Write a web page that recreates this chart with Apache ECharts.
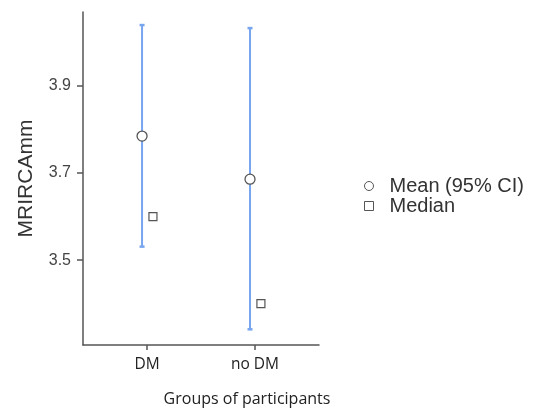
<!DOCTYPE html>
<html>
<head>
<meta charset="utf-8">
<script src="https://cdn.jsdelivr.net/npm/echarts@6/dist/echarts.min.js"></script>
<style>html,body{margin:0;padding:0;background:#fff}#c{width:536px;height:413px}</style>
</head>
<body>
<div id="c"></div>
<script>
// Data
var categories = ['DM', 'no DM'];
var meanValues = [3.785, 3.686];
var ciLower = [3.531, 3.341];
var ciUpper = [4.040, 4.033];
var medianValues = [3.600, 3.400];
var yTickValues = [3.5, 3.7, 3.9];
var yTickLabels = ['3.5', '3.7', '3.9'];

var catPos = categories.map(function (c, i) { return i + 1; });
var meanOffset = -0.046, medianOffset = 0.055;

var ciData = catPos.map(function (p, i) { return [p + meanOffset, ciLower[i], ciUpper[i]]; });
var meanData = catPos.map(function (p, i) { return [p + meanOffset, meanValues[i]]; });
var medianData = catPos.map(function (p, i) { return [p + medianOffset, medianValues[i]]; });

var barColor = '#78a5ef';
var chart = echarts.init(document.getElementById('c'), null, { renderer: 'canvas' });
chart.setOption({
  animation: false,
  backgroundColor: '#fff',
  grid: { left: 83, top: 12, width: 236, height: 333, containLabel: false },
  xAxis: {
    type: 'value', min: 0.407, max: 2.593,
    name: 'Groups of participants', nameLocation: 'middle', nameGap: 46,
    nameTextStyle: { fontFamily: 'Open Sans', fontSize: 16, color: '#222', padding: [0, 0, 0, 92] },
    splitLine: { show: false },
    axisLine: { show: true, onZero: false, lineStyle: { color: '#555', width: 1.5 } },
    axisTick: { show: true, customValues: catPos, length: 5, lineStyle: { color: '#555', width: 1.5 } },
    axisLabel: {
      customValues: catPos, margin: 12,
      fontFamily: 'Open Sans', fontSize: 15.5, color: '#222',
      formatter: function (v) { return categories[Math.round(v) - 1] || ''; }
    }
  },
  yAxis: {
    type: 'value', min: 3.305, max: 4.070,
    name: 'MRIRCAmm', nameLocation: 'middle', nameGap: 46, nameRotate: 90,
    nameTextStyle: { fontFamily: 'Liberation Sans', fontSize: 21, color: '#333' },
    splitLine: { show: false },
    axisLine: { show: true, lineStyle: { color: '#555', width: 1.5 } },
    axisTick: { show: true, customValues: yTickValues, length: 6, lineStyle: { color: '#555', width: 1.5 } },
    axisLabel: {
      customValues: yTickValues, margin: 12,
      fontFamily: 'Liberation Sans', fontSize: 16, color: '#444',
      formatter: function (v) {
        var idx = yTickValues.findIndex(function (t) { return Math.abs(t - v) < 1e-6; });
        return idx >= 0 ? yTickLabels[idx] : '';
      }
    }
  },
  legend: {
    orient: 'vertical', left: 359, top: 171,
    itemWidth: 9, itemHeight: 9, itemGap: 0,
    textStyle: { fontFamily: 'Liberation Sans', fontSize: 20, color: '#333', lineHeight: 20, padding: [0, 0, 0, 11] },
    data: [
      { name: 'Mean (95% CI)', icon: 'circle', itemStyle: { color: '#fff', borderColor: '#555', borderWidth: 1 } },
      { name: 'Median', icon: 'rect', itemStyle: { color: '#fff', borderColor: '#555', borderWidth: 1 } }
    ]
  },
  series: [
    {
      type: 'custom', name: 'CI', silent: true,
      renderItem: function (params, api) {
        var x = api.value(0);
        var lo = api.coord([x, api.value(1)]);
        var hi = api.coord([x, api.value(2)]);
        var cap = 2.5;
        return {
          type: 'group',
          children: [
            { type: 'line', shape: { x1: lo[0], y1: lo[1], x2: hi[0], y2: hi[1] }, style: { stroke: barColor, lineWidth: 2 } },
            { type: 'line', shape: { x1: hi[0] - cap, y1: hi[1], x2: hi[0] + cap, y2: hi[1] }, style: { stroke: barColor, lineWidth: 2.5 } },
            { type: 'line', shape: { x1: lo[0] - cap, y1: lo[1], x2: lo[0] + cap, y2: lo[1] }, style: { stroke: barColor, lineWidth: 2.5 } }
          ]
        };
      },
      encode: { x: 0, y: [1, 2] },
      data: ciData,
      z: 1
    },
    {
      type: 'scatter', name: 'Mean (95% CI)', symbol: 'circle', symbolSize: 10,
      itemStyle: { color: '#fff', borderColor: '#555', borderWidth: 1.3, opacity: 1 },
      data: meanData, z: 3
    },
    {
      type: 'scatter', name: 'Median', symbol: 'rect', symbolSize: 8,
      itemStyle: { color: '#fff', borderColor: '#555', borderWidth: 1.2, opacity: 1 },
      data: medianData, z: 3
    }
  ]
});
</script>
</body>
</html>
